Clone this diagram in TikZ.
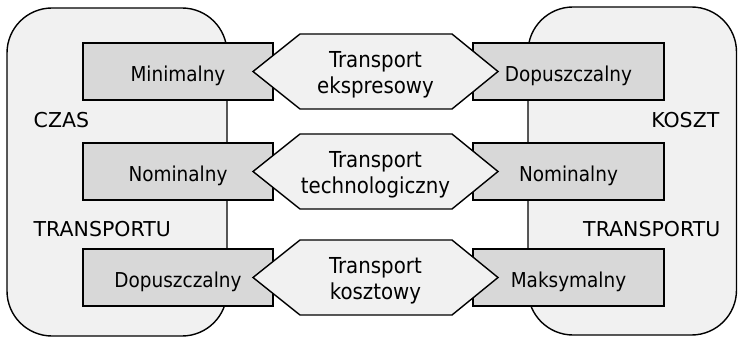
\documentclass[tikz,border=0pt]{standalone}
\usepackage{fontspec}
\setmainfont{DejaVu Sans Condensed}
\newfontfamily\capsfont{DejaVu Sans}
\usetikzlibrary{calc}
\definecolor{panel}{HTML}{F1F1F1}
\definecolor{boxfill}{HTML}{D8D8D8}
\newcommand\hexagonat[1]{%
  \filldraw[hexst] ($(#1)+(-122.5,0)$) -- ($(#1)+(-75.5,-37.5)$) -- ($(#1)+(76.5,-37.5)$)
    -- ($(#1)+(122.5,0)$) -- ($(#1)+(76.5,37.5)$) -- ($(#1)+(-75.5,37.5)$) -- cycle;}
\begin{document}
\begin{tikzpicture}[x=1pt,y=-1pt,line width=1.4pt,
  panelst/.style={draw=black,fill=panel,rounded corners=45pt},
  valbox/.style={draw=black,fill=boxfill,minimum height=57pt,inner sep=0pt,
    text height=19.5pt,text depth=0pt,font=\fontsize{20.5}{24}\selectfont},
  leftbox/.style={valbox,minimum width=190pt},
  rightbox/.style={valbox,minimum width=191pt},
  hexst/.style={draw=black,fill=panel,line join=miter},
  hextext/.style={align=center,inner sep=0pt,font=\fontsize{22}{26}\selectfont},
  sidelabel/.style={inner sep=0pt,font=\capsfont\fontsize{20.5}{24}\selectfont}]
\useasboundingbox (0,0) rectangle (738,339);
% panels
\draw[panelst] (7,8) rectangle (227,336);
\draw[panelst] (528,7) rectangle (736.5,335);
% side labels
\node[sidelabel,anchor=base west] (czas) at (33,128) {CZAS};
\node[sidelabel,anchor=base west] (tl) at (33,236) {TRANSPORTU};
\node[sidelabel,anchor=base east] (koszt) at (720,128) {KOSZT};
\node[sidelabel,anchor=base east] (tr) at (721,236) {TRANSPORTU};
% value boxes
\node[leftbox] (l1) at (178,71.5) {Minimalny};
\node[leftbox] (l2) at (178,171.5) {Nominalny};
\node[leftbox] (l3) at (178,277.5) {Dopuszczalny};
\node[rightbox] (r1) at (568.5,71.5) {Dopuszczalny};
\node[rightbox] (r2) at (568.5,171.5) {Nominalny};
\node[rightbox] (r3) at (568.5,277.5) {Maksymalny};
% hexagons
\coordinate (h1) at (375.5,71.5);
\coordinate (h2) at (375.5,171.5);
\coordinate (h3) at (375.5,277.5);
\hexagonat{h1}
\hexagonat{h2}
\hexagonat{h3}
\node[hextext] (t1) at ($(h1)+(0,2.9)$) {Transport\\ekspresowy};
\node[hextext] (t2) at ($(h2)+(0,2.9)$) {Transport\\technologiczny};
\node[hextext] (t3) at ($(h3)+(0,2.9)$) {Transport\\kosztowy};
\end{tikzpicture}
\end{document}
